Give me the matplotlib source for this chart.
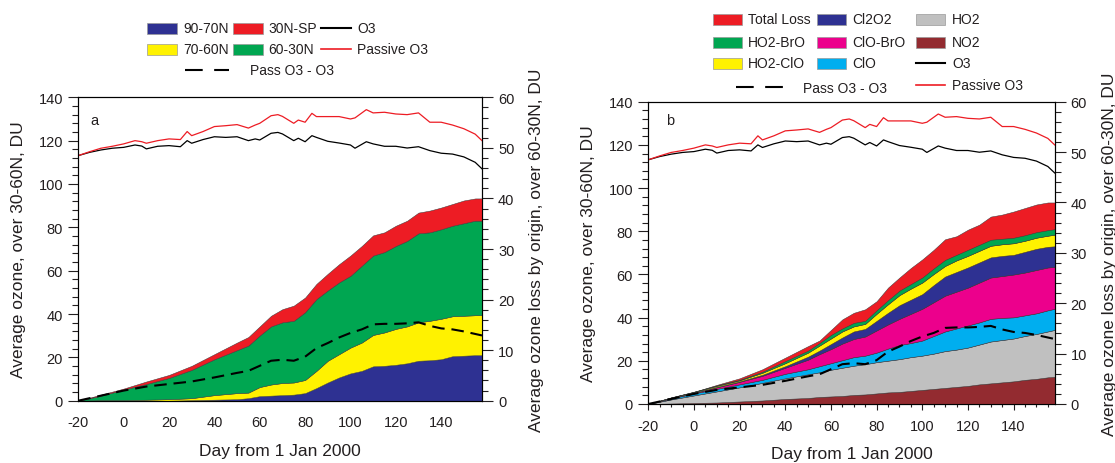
import matplotlib
matplotlib.use("Agg")
import matplotlib.pyplot as plt
from matplotlib.patches import Rectangle
from matplotlib.lines import Line2D
from matplotlib.ticker import MultipleLocator

plt.rcParams['font.family'] = ['Liberation Sans', 'DejaVu Sans']
plt.rcParams['axes.unicode_minus'] = False
TXT = '#231F20'
plt.rcParams['text.color'] = TXT
plt.rcParams['axes.labelcolor'] = TXT
plt.rcParams['xtick.color'] = TXT
plt.rcParams['ytick.color'] = TXT

# ---------------- data ----------------
days = [-20, -10, 0, 10, 20, 30, 40, 50, 55, 60, 65, 70, 75, 80, 85, 90, 95, 100,
        105, 110, 115, 120, 125, 130, 135, 140, 145, 150, 155, 158]

# panel a: loss by origin (DU, right axis)
loss_90_70N = [0, 0, 0, 0, 0, 0.1, 0.2, 0.3, 0.5, 0.9, 1.0, 1.1, 1.2, 1.5, 2.5, 3.6, 4.6, 5.4,
               5.9, 6.8, 6.9, 7.1, 7.4, 7.9, 8.0, 8.2, 8.8, 8.9, 9.0, 9.0]
loss_70_60N = [0, 0.1, 0.1, 0.2, 0.3, 0.4, 0.9, 1.2, 1.1, 1.8, 2.2, 2.4, 2.4, 2.6, 3.4, 4.3, 4.6, 5.1,
               5.6, 6.2, 6.6, 7.1, 7.3, 7.6, 7.8, 8.0, 7.9, 7.9, 7.9, 7.9]
loss_60_30N = [0, 0.9, 2.1, 3.1, 4.2, 5.6, 7.1, 8.5, 9.3, 10.2, 11.5, 12.0, 12.2, 13.4, 14.2, 13.9, 14.2, 14.2,
               15.2, 15.7, 15.9, 16.4, 16.9, 17.6, 17.5, 17.7, 17.9, 18.3, 18.7, 18.7]
loss_30N_SP = [0, 0.2, 0.2, 0.5, 0.6, 0.8, 1.0, 1.5, 1.7, 1.8, 2.1, 2.6, 3.0, 2.9, 3.0, 3.3, 3.6, 4.0,
               3.9, 4.0, 3.9, 4.0, 4.0, 4.1, 4.3, 4.3, 4.3, 4.5, 4.4, 4.4]

# panel b: loss by chemical cycle (DU, right axis)
total_loss = [0, 1.2, 2.4, 3.8, 5.1, 6.9, 9.2, 11.5, 12.6, 14.7, 16.8, 18.1, 18.8, 20.4, 23.1, 25.1, 27.0, 28.7,
              30.6, 32.7, 33.3, 34.6, 35.6, 37.2, 37.6, 38.2, 38.9, 39.6, 40.0, 40.0]
no2 = [0, 0.1, 0.2, 0.3, 0.5, 0.7, 1.0, 1.2, 1.4, 1.5, 1.6, 1.8, 1.9, 2.1, 2.3, 2.4, 2.6, 2.8,
       3.0, 3.2, 3.4, 3.6, 3.9, 4.1, 4.3, 4.5, 4.8, 5.0, 5.3, 5.4]
ho2 = [0, 0.8, 1.5, 2.2, 2.8, 3.5, 4.1, 4.7, 4.9, 5.3, 5.6, 5.8, 6.0, 6.2, 6.3, 6.5, 6.7, 6.8,
       7.0, 7.3, 7.4, 7.6, 7.9, 8.3, 8.4, 8.5, 8.7, 8.9, 9.1, 9.3]
clo = [0, 0.2, 0.4, 0.5, 0.6, 0.6, 0.9, 1.0, 1.2, 1.3, 1.5, 1.7, 1.7, 1.9, 2.4, 2.8, 2.8, 3.0,
       3.5, 3.9, 4.2, 4.4, 4.4, 4.5, 4.4, 4.2, 4.1, 4.1, 4.2, 4.2]
clo_bro = [0, 0.1, 0.1, 0.3, 0.5, 0.8, 1.2, 1.9, 2.4, 2.8, 3.3, 3.6, 3.8, 4.4, 4.8, 5.2, 5.8, 6.3,
           6.7, 7.1, 7.3, 7.5, 7.9, 8.2, 8.3, 8.5, 8.5, 8.6, 8.5, 8.3]
cl2o2 = [0, 0.05, 0.1, 0.1, 0.1, 0.2, 0.3, 0.6, 0.7, 1.0, 1.2, 1.5, 1.5, 1.9, 2.3, 2.7, 2.8, 2.9,
         3.4, 3.8, 3.9, 4.0, 4.0, 4.0, 4.0, 3.9, 4.1, 4.2, 4.1, 4.1]
ho2_clo = [0, 0.05, 0.1, 0.2, 0.2, 0.4, 0.6, 0.8, 1.0, 1.1, 1.2, 1.0, 1.0, 1.4, 1.7, 2.0, 2.2, 2.3,
           2.2, 2.1, 2.3, 2.3, 2.3, 2.3, 2.3, 2.3, 2.2, 2.2, 2.2, 2.3]
ho2_bro = [0, 0.02, 0.05, 0.1, 0.1, 0.2, 0.4, 0.4, 0.5, 0.7, 0.6, 0.7, 0.6, 0.7, 0.8, 0.9, 0.9, 1.0,
           1.1, 1.2, 1.1, 1.2, 1.2, 1.2, 1.1, 1.1, 1.1, 1.1, 1.1, 1.1]

# Passive O3 minus O3 (DU, right axis)
pass_minus_o3 = [0, 1.0, 2.0, 2.8, 3.3, 3.8, 4.6, 5.5, 5.9, 6.9, 7.9, 8.1, 7.9, 8.7, 10.4, 11.4, 12.5, 13.4,
                 14.1, 15.1, 15.2, 15.2, 15.3, 15.5, 14.8, 14.3, 14.1, 13.7, 13.2, 12.9]

# O3 and passive O3 (DU, left axis)
o3_days = [-20, -15, -10, -5, 0, 5, 8, 10, 15, 20, 25, 28, 30, 35, 40, 45, 50, 55, 58, 60, 65, 68,
           70, 75, 77, 80, 83, 85, 90, 95, 100, 102, 107, 110, 115, 120, 125, 130, 135, 140, 145,
           150, 155, 158]
o3 = [113.1, 114.6, 115.7, 116.5, 116.9, 118.0, 117.5, 116.2, 117.4, 117.7, 117.2, 120.0, 118.8,
      120.5, 121.8, 121.5, 121.8, 120.0, 120.8, 120.3, 123.4, 123.8, 123.1, 120.0, 121.1, 119.5,
      122.3, 121.5, 119.7, 118.9, 118.0, 116.5, 119.5, 118.5, 117.4, 117.4, 116.6, 117.2, 115.4,
      114.2, 113.8, 112.5, 110.0, 107.0]
passive_o3 = [113.1, 114.9, 116.5, 117.4, 118.5, 120.0, 119.5, 118.8, 120.0, 120.8, 120.5, 124.2,
              122.3, 124.2, 126.5, 126.9, 127.4, 125.8, 127.2, 128.0, 131.5, 132.0, 131.2, 128.0,
              129.5, 128.5, 132.6, 131.1, 131.1, 131.1, 130.0, 130.5, 134.3, 132.8, 133.1, 132.3,
              132.0, 132.8, 128.5, 128.5, 127.2, 125.5, 123.0, 120.0]

x_ticks = [-20, 0, 20, 40, 60, 80, 100, 120, 140]

C_NAVY = '#2E3192'
C_RED = '#ED1C24'
C_YEL = '#FFF200'
C_GRN = '#00A651'
C_MAG = '#EC008C'
C_CYN = '#00AEEF'
C_GRY = '#C0C0C0'
C_BRN = '#932B30'

W, H = 1115, 464
fig = plt.figure(figsize=(W / 100, H / 100), dpi=100)


def rect(x0, y0, x1, y1):
    return [x0 / W, 1 - y1 / H, (x1 - x0) / W, (y1 - y0) / H]


def setup(ax, ax2, xminor, axw, axh, lab, labxy):
    ax.set_xlim(-20, 158)
    ax.set_ylim(0, 140)
    ax2.set_ylim(0, 60)
    ax.set_xticks(x_ticks)
    ax.set_yticks(range(0, 141, 20))
    ax.yaxis.set_minor_locator(MultipleLocator(4))
    ax2.set_yticks(range(0, 61, 10))
    ax2.yaxis.set_minor_locator(MultipleLocator(2))
    ax.tick_params(axis='y', which='major', direction='out', length=7.5, width=0.8, pad=3.5, labelsize=10.5)
    ax.tick_params(axis='y', which='minor', direction='out', length=4, width=0.8)
    ax2.tick_params(axis='y', which='major', direction='out', length=8, width=0.8, pad=3.5, labelsize=10.5)
    ax2.tick_params(axis='y', which='minor', direction='out', length=4.3, width=0.8)
    if xminor:
        ax.xaxis.set_minor_locator(MultipleLocator(5))
        ax.tick_params(axis='x', which='major', direction='out', length=4.5, width=0.8, pad=6, labelsize=10.5)
        ax.tick_params(axis='x', which='minor', direction='out', length=2.5, width=0.8)
    else:
        ax.tick_params(axis='x', which='major', length=0, pad=10, labelsize=10.5)
    for a in (ax, ax2):
        for s in a.spines.values():
            s.set_linewidth(0.8)
    ax.set_xlabel('Day from 1 Jan 2000', fontsize=12.5)
    ax.set_ylabel('Average ozone, over 30-60N, DU', fontsize=12.5)
    ax2.set_ylabel('Average ozone loss by origin, over 60-30N, DU', fontsize=12.5)
    ax.xaxis.set_label_coords(0.5, -(42.0 / axh))
    ax.yaxis.set_label_coords(-(52.0 / axw), 0.5)
    ax2.yaxis.set_label_coords(1 + 47.0 / axw, 0.5)
    ax.text(labxy[0], labxy[1], lab, transform=ax.transAxes, fontsize=10.5, ha='left', va='center')
    ax.plot(o3_days, o3, color='black', lw=0.9, zorder=3)
    ax.plot(o3_days, passive_o3, color='#ED1C24', lw=0.9, zorder=3)


# ---------------- panel a ----------------
axa = fig.add_axes(rect(78.3, 98.3, 482.0, 401.7))
axa2 = axa.twinx()
setup(axa, axa2, False, 403.7, 303.4, 'a', (0.031, 0.926))
axa2.stackplot(days, loss_90_70N, loss_70_60N, loss_60_30N, loss_30N_SP,
               colors=[C_NAVY, C_YEL, C_GRN, C_RED], edgecolor='#3a3a3a', linewidth=0.35)
axa2.plot(days, pass_minus_o3, color='black', lw=1.5, dashes=(6, 3.3))

# ---------------- panel b ----------------
axb = fig.add_axes(rect(648.3, 102.7, 1054.7, 405.0))
axb2 = axb.twinx()
setup(axb, axb2, True, 406.4, 302.3, 'b', (0.044, 0.94))
axb2.fill_between(days, 0, total_loss, facecolor=C_RED, edgecolor='#3a3a3a', linewidth=0.35)
axb2.stackplot(days, no2, ho2, clo, clo_bro, cl2o2, ho2_clo, ho2_bro,
               colors=[C_BRN, C_GRY, C_CYN, C_MAG, C_NAVY, C_YEL, C_GRN],
               edgecolor='#3a3a3a', linewidth=0.35)
axb2.plot(days, pass_minus_o3, color='black', lw=1.5, dashes=(6, 3.3))


# ---------------- legends (figure pixel layout) ----------------
def fx(x):
    return x / W


def fy(y):
    return 1 - y / H


def lpatch(x0, x1, y, c):
    fig.add_artist(Rectangle((fx(x0), fy(y + 5.5)), (x1 - x0) / W, 11 / H, transform=fig.transFigure,
                             facecolor=c, edgecolor='#9a9a9a', linewidth=0.5))


def lline(x0, x1, y, c, dashed=False, lw=1.5):
    ln = Line2D([fx(x0), fx(x1)], [fy(y), fy(y)], transform=fig.transFigure, color=c, lw=lw)
    if dashed:
        ln.set_dashes((8.5, 5.5))
    fig.add_artist(ln)


def ltext(x, y, s):
    fig.text(fx(x), fy(y), s, ha='left', va='center', fontsize=10)


# panel a legend
lpatch(147, 177, 29, C_NAVY); ltext(183, 29, '90-70N')
lpatch(233, 263, 29, C_RED); ltext(268, 29, '30N-SP')
lline(321, 351, 29, 'black'); ltext(357, 29, 'O3')
lpatch(147, 177, 50, C_YEL); ltext(183, 50, '70-60N')
lpatch(233, 263, 50, C_GRN); ltext(268, 50, '60-30N')
lline(321, 351, 50, C_RED, lw=1.2); ltext(357, 50, 'Passive O3')
lline(185, 229, 71, 'black', dashed=True); ltext(250, 71, 'Pass O3 - O3')

# panel b legend
lpatch(713, 742, 20, C_RED); ltext(748, 20, 'Total Loss')
lpatch(817, 846, 20, C_NAVY); ltext(852, 20, 'Cl2O2')
lpatch(916, 945, 20, C_GRY); ltext(952, 20, 'HO2')
lpatch(713, 742, 43, C_GRN); ltext(748, 43, 'HO2-BrO')
lpatch(817, 846, 43, C_MAG); ltext(852, 43, 'ClO-BrO')
lpatch(916, 945, 43, C_BRN); ltext(952, 43, 'NO2')
lpatch(713, 742, 64, C_YEL); ltext(748, 64, 'HO2-ClO')
lpatch(817, 846, 64, C_CYN); ltext(852, 64, 'ClO')
lline(916, 945, 64, 'black'); ltext(952, 64, 'O3')
lline(736, 783, 88, 'black', dashed=True); ltext(803, 89, 'Pass O3 - O3')
lline(916, 945, 86, C_RED, lw=1.2); ltext(952, 86, 'Passive O3')

fig.savefig('out.png', dpi=100)
